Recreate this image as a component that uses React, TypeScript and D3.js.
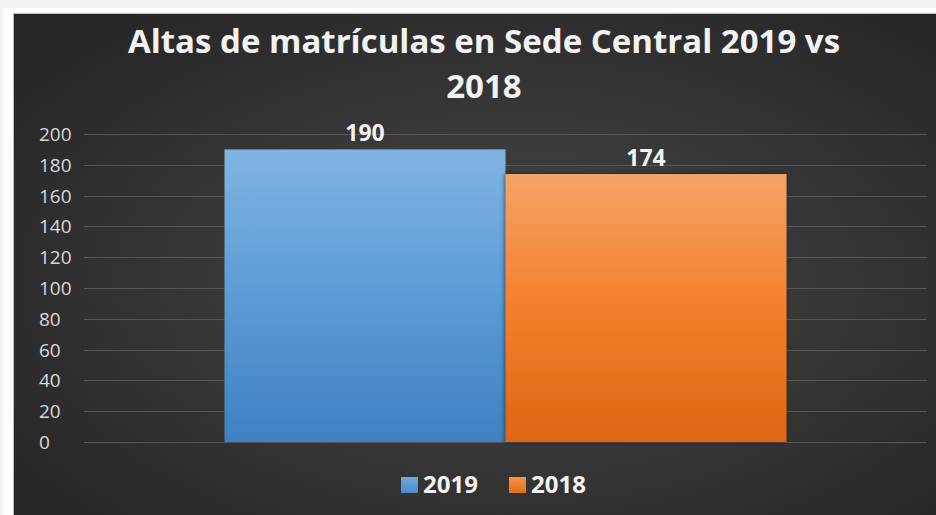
import React from "react";
import * as d3 from "d3";

const categories = ["Altas"];
const seriesNames = ["2019", "2018"];
const seriesValues = [190, 174];
const yTicks = [0, 20, 40, 60, 80, 100, 120, 140, 160, 180, 200];
const titleLines = ["Altas de matrículas en Sede Central 2019 vs", "2018"];

const W = 936;
const H = 515;
const FONT = "'Open Sans', 'DejaVu Sans', sans-serif";

const App = () => {
  const margin = { left: 84, right: 9, top: 134, bottom: 73 };
  const plotRight = W - margin.right;
  const plotBottom = H - margin.bottom;

  const y = d3.scaleLinear().domain([0, 200]).range([plotBottom, margin.top]);
  // gap width 100% like the Excel default
  const x0 = d3
    .scaleBand()
    .domain(categories)
    .range([margin.left, plotRight])
    .paddingOuter(0.25)
    .paddingInner(0);
  const x1 = d3.scaleBand().domain(seriesNames).range([0, x0.bandwidth()]);

  const fills = ["url(#gBlue)", "url(#gOrange)"];

  return (
    <svg
      width={W}
      height={H}
      style={{ position: "absolute", left: 0, top: 0, display: "block" }}
    >
      <defs>
        <radialGradient id="bg" cx="0.52" cy="0.5" r="0.65">
          <stop offset="0" stopColor="#474747" />
          <stop offset="1" stopColor="#262626" />
        </radialGradient>
        <linearGradient id="gBlue" x1="0" y1="0" x2="0" y2="1">
          <stop offset="0" stopColor="#81b4e3" />
          <stop offset="0.5" stopColor="#5b9bd5" />
          <stop offset="1" stopColor="#3e81c3" />
        </linearGradient>
        <linearGradient id="gOrange" x1="0" y1="0" x2="0" y2="1">
          <stop offset="0" stopColor="#f4a468" />
          <stop offset="0.5" stopColor="#f47f2b" />
          <stop offset="1" stopColor="#df6512" />
        </linearGradient>
        <linearGradient id="lBlue" x1="0" y1="0" x2="0" y2="1">
          <stop offset="0" stopColor="#6fa8dc" />
          <stop offset="1" stopColor="#4a8ccd" />
        </linearGradient>
        <linearGradient id="lOrange" x1="0" y1="0" x2="0" y2="1">
          <stop offset="0" stopColor="#f5924a" />
          <stop offset="1" stopColor="#e56e1b" />
        </linearGradient>
        <filter id="shadow" x="-10%" y="-10%" width="120%" height="120%">
          <feGaussianBlur in="SourceAlpha" stdDeviation="2" />
          <feOffset dx="-1" dy="0" result="b" />
          <feComponentTransfer>
            <feFuncA type="linear" slope="0.5" />
          </feComponentTransfer>
          <feMerge>
            <feMergeNode />
            <feMergeNode in="SourceGraphic" />
          </feMerge>
        </filter>
      </defs>

      <rect x={0} y={0} width={W} height={H} fill="#f3f3f3" />
      <rect x={3} y={8} width={W} height={H} fill="#ffffff" />
      <rect
        x={13.5}
        y={13.5}
        width={W + 20}
        height={H + 20}
        fill="url(#bg)"
        stroke="#bdbdbd"
        strokeWidth={1}
      />

      {titleLines.map((t, i) => (
        <text
          key={i}
          x={484}
          y={53 + i * 45}
          textAnchor="middle"
          fill="#f2f2f2"
          fontFamily={FONT}
          fontWeight="bold"
          fontSize={33}
        >
          {t}
        </text>
      ))}

      {yTicks.map((t) => (
        <g key={t}>
          <line
            x1={margin.left}
            x2={plotRight}
            y1={Math.round(y(t)) + 0.5}
            y2={Math.round(y(t)) + 0.5}
            stroke="#545454"
            strokeWidth={1}
          />
          <text
            x={39}
            y={y(t) + 7}
            fill="#d9d9d9"
            fontFamily={FONT}
            fontSize={19}
          >
            {t}
          </text>
        </g>
      ))}

      {categories.map((c) => (
        <g key={c} transform={`translate(${x0(c)},0)`}>
          {seriesNames.map((s, i) => (
            <rect
              key={s}
              x={x1(s)}
              y={y(seriesValues[i])}
              width={x1.bandwidth()}
              height={plotBottom - y(seriesValues[i])}
              fill={fills[i]}
              filter={i === 1 ? "url(#shadow)" : undefined}
            />
          ))}
          {seriesNames.map((s, i) => (
            <text
              key={s}
              x={(x1(s) as number) + x1.bandwidth() / 2}
              y={y(seriesValues[i]) - 8}
              textAnchor="middle"
              fill="#f2f2f2"
              fontFamily={FONT}
              fontWeight="bold"
              fontSize={23}
            >
              {seriesValues[i]}
            </text>
          ))}
        </g>
      ))}

      {seriesNames.map((s, i) => (
        <g key={s} transform={`translate(${401 + i * 108},477)`}>
          <rect
            width={17}
            height={16}
            fill={i === 0 ? "url(#lBlue)" : "url(#lOrange)"}
          />
          <text
            x={22}
            y={16}
            fill="#f2f2f2"
            fontFamily={FONT}
            fontWeight="bold"
            fontSize={24}
          >
            {s}
          </text>
        </g>
      ))}
    </svg>
  );
};

export default App;
